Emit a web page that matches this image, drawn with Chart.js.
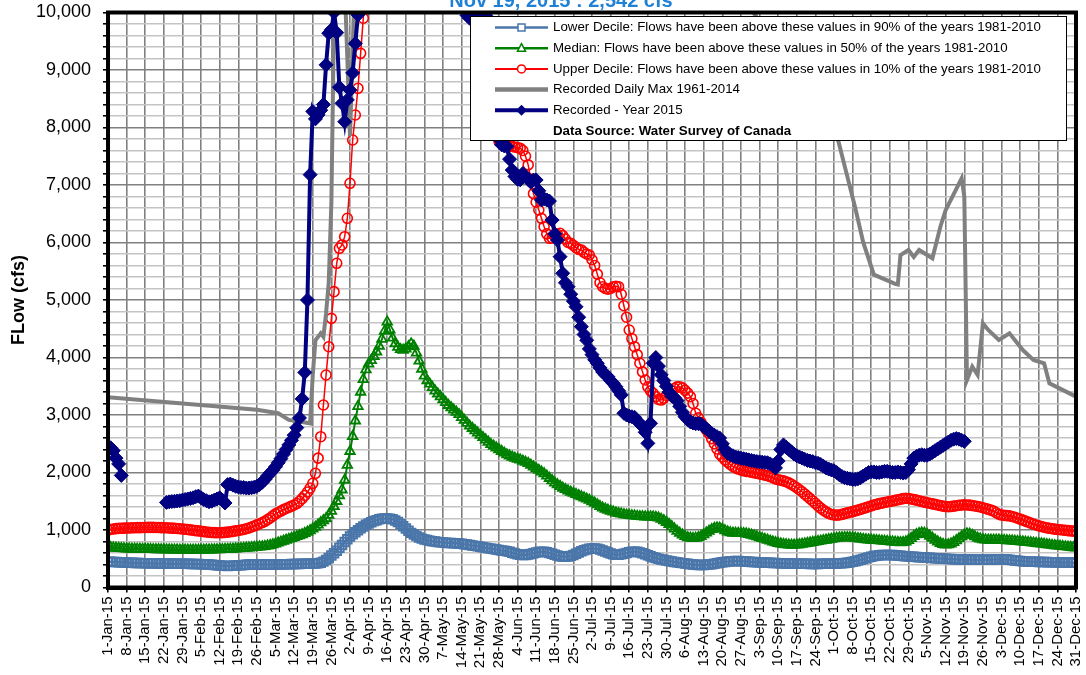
<!DOCTYPE html>
<html>
<head>
<meta charset="utf-8">
<script src="https://cdn.jsdelivr.net/npm/chart.js@4.4.1/dist/chart.umd.min.js"></script>
<style>
  body { margin: 0; background: #fff; }
  #wrap { width: 1086px; height: 675px; }
</style>
</head>
<body>
<div id="wrap"><canvas id="flowChart" width="1086" height="675"></canvas></div>
<script>
// Daily values, day 0 = 1-Jan-15 ... day 364 = 31-Dec-15 (cfs)
const lowerDecile = [
  450,448,445,442,440,438,436,434,432,430,428,426,425,424,423,422,421,420,420,419,418,418,417,416,415,415,414,413,412,412,411,
  410,409,408,407,406,404,402,400,397,393,388,383,379,376,375,376,378,381,385,389,393,396,398,399,400,400,399,398,
  398,398,399,400,401,402,403,404,405,406,407,408,409,410,411,412,413,414,416,418,421,430,450,480,515,555,595,640,690,740,790,
  840,885,925,960,995,1030,1060,1090,1115,1135,1155,1170,1185,1195,1200,1200,1195,1185,1165,1140,1105,1065,1025,985,950,920,895,870,850,835,
  825,815,806,798,792,786,781,777,774,772,770,768,765,760,754,747,740,732,724,716,708,700,692,684,676,668,660,652,645,638,630,
  620,605,592,580,570,565,566,572,582,595,608,618,622,620,612,600,585,570,556,545,538,536,540,550,565,585,608,630,648,662,
  672,678,678,672,660,645,628,610,592,578,570,570,576,588,602,614,622,624,620,610,596,580,562,545,528,513,500,488,478,468,460,
  452,445,438,430,424,418,412,406,400,396,393,392,393,396,400,406,414,422,430,438,445,450,455,458,460,460,458,455,452,448,445,
  442,440,438,436,434,432,430,428,426,424,422,420,419,418,417,416,415,414,413,412,411,410,410,410,410,411,412,413,414,415,
  416,418,420,423,427,432,438,446,456,468,482,496,510,524,536,546,554,560,564,566,567,566,564,561,557,553,549,545,541,537,534,
  531,528,525,522,519,516,513,510,507,504,501,498,496,494,492,490,489,488,487,486,485,484,483,482,481,481,481,482,484,486,
  488,490,491,490,487,482,476,470,464,459,455,452,450,448,447,446,445,444,443,442,441,440,439,438,437,436,435,434,433,432,431
];

const medianFlow = [
  700,695,690,686,682,679,676,674,672,670,669,668,667,666,665,664,663,662,661,660,659,658,657,656,655,654,654,653,653,652,652,
  652,652,652,652,653,653,654,655,656,657,658,660,662,664,666,668,670,673,676,679,682,686,690,694,698,702,706,710,
  716,724,734,746,760,776,792,808,824,840,856,872,888,904,922,942,964,990,1020,1050,1090,1130,1165,1200,1260,1330,1410,1500,1600,1700,1870,
  2130,2370,2630,2900,3150,3400,3620,3790,3890,3950,4020,4100,4200,4320,4460,4620,4480,4340,4240,4180,4140,4130,4150,4190,4240,4200,4080,3940,3800,3680,
  3600,3540,3480,3420,3370,3320,3270,3220,3170,3130,3090,3050,3010,2960,2910,2860,2810,2770,2730,2690,2650,2610,2570,2530,2490,2460,2430,2400,2370,2340,2310,
  2290,2270,2250,2235,2220,2200,2180,2160,2130,2100,2070,2040,2010,1980,1940,1900,1860,1820,1790,1760,1730,1705,1680,1660,1640,1620,1600,1580,1560,1540,
  1520,1495,1470,1440,1410,1385,1365,1345,1330,1315,1300,1290,1280,1270,1262,1255,1250,1245,1240,1236,1232,1230,1230,1230,1228,1222,1210,1190,1165,1135,1100,
  1060,1020,980,945,915,890,870,860,855,858,870,890,920,950,980,1010,1030,1040,1035,1015,990,970,955,948,945,944,943,940,935,925,912,
  900,885,870,855,840,825,810,795,782,770,760,752,746,741,739,740,743,748,754,762,770,778,786,794,802,810,818,826,834,842,
  850,858,864,868,870,870,868,864,858,852,846,840,835,830,826,822,818,814,810,806,802,798,794,790,786,782,784,795,820,855,890,
  920,940,950,945,925,895,860,825,795,770,752,742,745,760,785,815,850,885,915,935,930,910,885,860,845,835,828,826,826,826,
  826,825,823,820,817,814,811,807,803,799,795,790,785,780,775,770,765,760,754,748,742,736,730,725,720,715,710,705,700,695,690
];

const upperDecile = [
  1000,1010,1018,1024,1028,1030,1032,1034,1036,1038,1040,1041,1042,1043,1044,1045,1045,1045,1044,1043,1042,1040,1038,1036,1033,1030,1026,1022,1018,1013,1008,
  1002,996,990,984,978,972,966,961,957,954,952,952,954,958,963,969,976,984,992,1000,1010,1022,1036,1052,1070,1090,1110,1130,
  1150,1180,1210,1245,1280,1305,1330,1355,1375,1395,1415,1435,1460,1500,1545,1600,1660,1730,1812,1986,2250,2623,3174,3696,4188,4681,5145,5638,5899,5957,6101,
  6421,7030,7783,8217,8682,9290,9900,10500,null,null,null,null,null,null,null,null,null,null,null,null,null,null,null,null,null,null,null,null,null,null,
  null,null,null,null,null,null,null,null,null,null,null,null,null,null,null,null,10400,10100,9900,9700,9450,9150,8850,8550,8300,8050,7880,7760,7720,7700,7690,
  7680,7670,7660,7650,7640,7600,7500,7350,7100,6850,6700,6565,6420,6275,6150,6073,6080,6110,6140,6160,6120,6060,6000,5986,5950,5910,5880,5870,5830,5800,
  5783,5700,5600,5450,5300,5231,5200,5190,5200,5230,5240,5231,5100,4900,4700,4478,4330,4188,4050,3900,3750,3609,3490,3420,3377,3320,3270,3260,3290,3340,3380,
  3420,3460,3490,3492,3470,3430,3380,3318,3200,3030,2950,2870,2800,2740,2680,2590,2500,2410,2320,2270,2220,2180,2140,2105,2080,2060,2045,2030,2020,2014,2005,
  1995,1986,1975,1965,1955,1945,1930,1910,1890,1875,1865,1855,1840,1820,1795,1765,1735,1700,1665,1625,1585,1545,1505,1464,1420,1380,1345,1315,1290,1270,
  1262,1258,1262,1272,1285,1298,1310,1320,1332,1345,1360,1375,1390,1405,1420,1435,1447,1458,1468,1478,1488,1497,1505,1515,1525,1535,1545,1551,1548,1540,1530,
  1520,1510,1495,1485,1475,1465,1455,1445,1435,1425,1415,1408,1405,1408,1415,1422,1430,1435,1438,1436,1432,1425,1418,1410,1400,1388,1375,1360,1345,1330,
  1300,1275,1260,1255,1250,1245,1235,1222,1205,1190,1172,1155,1138,1120,1103,1088,1073,1060,1048,1038,1030,1022,1015,1010,1005,1000,995,990,985,980,975
];

const recorded2015 = [
  2450,2430,2380,2250,2150,1950,null,null,null,null,null,null,null,null,null,null,null,null,null,null,null,null,1480,1490,1495,1500,1505,1510,1520,1530,1540,
  1550,1560,1580,1590,1560,1530,1510,1490,1500,1520,1540,1560,1520,1470,1790,1800,1780,1760,1750,1740,1740,1730,1730,1735,1745,1760,1790,1830,
  1880,1940,1990,2040,2100,2170,2240,2320,2400,2480,2560,2650,2780,2950,3280,3740,5000,7180,8280,8150,8220,8300,8400,9090,9640,9700,10000,9650,8700,8420,8100,
  8480,8650,8950,9460,9960,10400,null,null,null,null,null,null,null,null,null,null,null,null,null,null,null,null,null,null,null,null,null,null,null,null,
  null,null,null,null,null,null,null,null,null,null,null,null,10300,10150,10050,9950,9900,9900,9950,10000,10050,10000,9950,9500,9000,8500,8100,7800,7700,7680,7670,
  7450,7260,7150,7100,7090,7200,7150,7100,7050,7087,7087,6900,6740,6760,6740,6720,6390,6150,6043,5753,5464,5300,5231,5100,4980,4883,4700,4536,4400,4300,
  4150,4050,3960,3900,3820,3750,3700,3666,3600,3550,3492,3420,3350,3030,3000,2980,2970,2960,2900,2850,2800,2700,2507,2855,3900,4000,3850,3700,3600,3500,3400,
  3330,3300,3250,3150,3050,2970,2920,2880,2860,2850,2850,2840,2800,2760,2720,2680,2650,2623,2600,2500,2400,2333,2310,2290,2270,2260,2250,2240,2230,2220,2210,
  2200,2190,2185,2180,2175,2170,2150,2120,2080,2200,2400,2480,2440,2400,2360,2320,2290,2270,2250,2230,2210,2200,2190,2170,2160,2140,2110,2080,2060,2045,
  2030,2000,1960,1930,1910,1900,1890,1880,1880,1890,1910,1940,1970,2000,2010,2010,2000,2000,2010,2020,2020,2010,2000,2000,2010,2000,1990,2000,2050,2150,2250,
  2280,2300,2310,2300,2300,2320,2350,2380,2410,2440,2470,2500,2530,2560,2580,2590,2580,2560,2542,null,null,null,null,null,null,null,null,null,null,null
];

// Recorded daily max 1961-2014: drawn as a plain line through these days
const maxDays  = [0, 56, 64, 68, 76, 77, 78, 80, 81, 82, 83, 84, 85, 86, 89, 90, 91, 92, 93, 168, 242, 243, 274, 278, 281, 284, 288, 296, 297, 298, 301, 303, 305, 310, 313, 315, 321, 322, 323, 325, 327, 329, 331, 335, 339, 344, 348, 352, 354, 364];
const maxFlows = [3310, 3090, 3030, 2915, 2855, 3700, 4300, 4420, 4360, 4770, 5300, 6700, 9950, 11000, 10500, 9200, 7850, 9300, 11000, null, 10300, 9980, 7880, 7150, 6600, 6000, 5440, 5280, 5270, 5780, 5870, 5750, 5870, 5725, 6275, 6565, 7116, 6797, 3609, 3840, 3696, 4595, 4478, 4304, 4420, 4130, 3957, 3900, 3551, 3320];

const monthNames = ['Jan', 'Feb', 'Mar', 'Apr', 'May', 'Jun', 'Jul', 'Aug', 'Sep', 'Oct', 'Nov', 'Dec'];

const seriesLabels = [
  'Lower Decile: Flows have been above these values in 90% of the years 1981-2010',
  'Median: Flows have been above these values in 50% of the years 1981-2010',
  'Upper Decile: Flows have been above these values in 10% of the years 1981-2010',
  'Recorded Daily Max 1961-2014',
  'Recorded - Year 2015'
];
const sourceNote = 'Data Source: Water Survey of Canada';
const titleText = 'Nov 19, 2015 : 2,542 cfs';

const FONT = '"Liberation Sans", Arial, sans-serif';
const colLower = '#4a76aa', colMedian = '#008000', colUpper = '#ff0000', colMax = '#808080', colRec = '#000080';

function dayLabel(day) {
  const d = new Date(2015, 0, 1 + day);
  return d.getDate() + '-' + monthNames[d.getMonth()] + '-15';
}

function toPoints(values) {
  return values.map((v, i) => ({ x: i, y: v }));
}

// small marker painter for the legend box
function drawMarker(ctx, style, x, y, color) {
  ctx.save();
  ctx.strokeStyle = color;
  ctx.fillStyle = color;
  ctx.lineWidth = 1.5;
  ctx.beginPath();
  if (style === 'rect') {
    ctx.rect(x - 3.5, y - 3.5, 7, 7);
    ctx.fillStyle = '#fff'; ctx.fill(); ctx.stroke();
  } else if (style === 'triangle') {
    ctx.moveTo(x, y - 4.5); ctx.lineTo(x + 4, y + 3); ctx.lineTo(x - 4, y + 3); ctx.closePath();
    ctx.fillStyle = '#fff'; ctx.fill(); ctx.stroke();
  } else if (style === 'circle') {
    ctx.arc(x, y, 4, 0, Math.PI * 2);
    ctx.fillStyle = '#fff'; ctx.fill(); ctx.stroke();
  } else if (style === 'rectRot') {
    ctx.moveTo(x, y - 5.5); ctx.lineTo(x + 5.5, y); ctx.lineTo(x, y + 5.5); ctx.lineTo(x - 5.5, y); ctx.closePath();
    ctx.fill();
  }
  ctx.restore();
}

const legendStyles = [
  { color: colLower, width: 2.5, marker: 'rect' },
  { color: colMedian, width: 2.5, marker: 'triangle' },
  { color: colUpper, width: 2, marker: 'circle' },
  { color: colMax, width: 4.5, marker: null },
  { color: colRec, width: 4, marker: 'rectRot' }
];

const framePlugin = {
  id: 'frame',
  afterDatasetsDraw(chart) {
    const { ctx, chartArea: a } = chart;
    ctx.save();
    ctx.strokeStyle = '#000';
    ctx.lineWidth = 4;
    ctx.strokeRect(a.left, a.top, a.right - a.left, a.bottom - a.top);
    ctx.restore();
  }
};

const boxLegendPlugin = {
  id: 'boxLegend',
  afterDraw(chart) {
    const ctx = chart.ctx;
    const left = 470, top = 16, right = 1067, bottom = 141;
    ctx.save();
    ctx.fillStyle = '#fff';
    ctx.fillRect(left, top, right - left, bottom - top);
    ctx.strokeStyle = '#000';
    ctx.lineWidth = 1;
    ctx.strokeRect(left + 0.5, top + 0.5, right - left - 1, bottom - top - 1);

    ctx.textBaseline = 'middle';
    ctx.textAlign = 'left';
    for (let i = 0; i < seriesLabels.length; i++) {
      const y = 27.5 + i * 20.7;
      const s = legendStyles[i];
      ctx.strokeStyle = s.color;
      ctx.lineWidth = s.width;
      ctx.beginPath();
      ctx.moveTo(495, y);
      ctx.lineTo(548, y);
      ctx.stroke();
      if (s.marker) drawMarker(ctx, s.marker, 521.5, y, s.color);
      ctx.fillStyle = '#000';
      ctx.font = '13.3px ' + FONT;
      ctx.fillText(seriesLabels[i], 553, y);
    }
    ctx.font = 'bold 13.3px ' + FONT;
    ctx.fillText(sourceNote, 553, 27.5 + 5 * 20.7);

    // chart title, mostly above the visible page
    ctx.font = 'bold 20px ' + FONT;
    ctx.fillStyle = '#1f80d6';
    ctx.textAlign = 'center';
    ctx.textBaseline = 'alphabetic';
    ctx.fillText(titleText, 561, 6.5);
    ctx.restore();
  }
};

const ctx = document.getElementById('flowChart').getContext('2d');

new Chart(ctx, {
  type: 'line',
  data: {
    datasets: [
      {
        label: seriesLabels[4],
        data: toPoints(recorded2015),
        borderColor: colRec,
        backgroundColor: colRec,
        borderWidth: 4,
        pointStyle: 'rectRot',
        pointRadius: 7,
        pointBorderWidth: 1,
        pointBackgroundColor: colRec,
        order: 0
      },
      {
        label: seriesLabels[3],
        data: maxDays.map((d, i) => ({ x: d, y: maxFlows[i] })),
        borderColor: colMax,
        borderWidth: 4,
        pointRadius: 0,
        order: 1
      },
      {
        label: seriesLabels[2],
        data: toPoints(upperDecile),
        borderColor: colUpper,
        borderWidth: 1.5,
        pointStyle: 'circle',
        pointRadius: 5,
        pointBorderWidth: 1.6,
        pointBackgroundColor: 'rgba(0,0,0,0)',
        order: 2
      },
      {
        label: seriesLabels[1],
        data: toPoints(medianFlow),
        borderColor: colMedian,
        borderWidth: 2,
        pointStyle: 'triangle',
        pointRadius: 5.5,
        pointBorderWidth: 1.8,
        pointBackgroundColor: 'rgba(0,0,0,0)',
        order: 3
      },
      {
        label: seriesLabels[0],
        data: toPoints(lowerDecile),
        borderColor: colLower,
        borderWidth: 2,
        pointStyle: 'rect',
        pointRadius: 6,
        pointBorderWidth: 2,
        pointBackgroundColor: 'rgba(0,0,0,0)',
        order: 4
      }
    ]
  },
  options: {
    responsive: false,
    animation: false,
    layout: { padding: { top: 12.5, right: 10, left: 0, bottom: 0 } },
    plugins: {
      legend: { display: false },
      tooltip: { enabled: false }
    },
    elements: { line: { tension: 0 } },
    scales: {
      x: {
        type: 'linear',
        min: 0,
        max: 364,
        afterFit: (scale) => {
          scale.height = 87.5;
          scale.paddingLeft = 0;
          scale.paddingRight = 0;
        },
        ticks: {
          stepSize: 7,
          autoSkip: false,
          minRotation: 90,
          maxRotation: 90,
          padding: 4,
          color: '#000',
          font: { family: FONT, size: 15 },
          callback: (value) => dayLabel(value)
        },
        grid: {
          color: '#808080',
          lineWidth: 1.6,
          tickColor: '#000',
          tickLength: 5
        },
        border: { color: '#000', width: 4 }
      },
      y: {
        min: 0,
        max: 10000,
        afterFit: (scale) => {
          scale.width = 108;
          scale.paddingTop = 0;
          scale.paddingBottom = 0;
        },
        ticks: {
          stepSize: 200,
          autoSkip: false,
          padding: 12,
          color: '#000',
          font: { family: FONT, size: 18 },
          callback: (value) => (value % 1000 === 0 ? value.toLocaleString('en-US') : '')
        },
        grid: {
          color: (c) => (c.tick && c.tick.value % 1000 === 0 ? '#808080' : '#c4c4c4'),
          lineWidth: 1.6,
          tickColor: '#000',
          tickLength: 5
        },
        border: { color: '#000', width: 4 },
        title: {
          display: true,
          text: 'FLow (cfs)',
          color: '#000',
          font: { family: FONT, size: 18, weight: 'bold' },
          padding: { top: 8, bottom: 0 }
        }
      }
    }
  },
  plugins: [framePlugin, boxLegendPlugin]
});
</script>
</body>
</html>
